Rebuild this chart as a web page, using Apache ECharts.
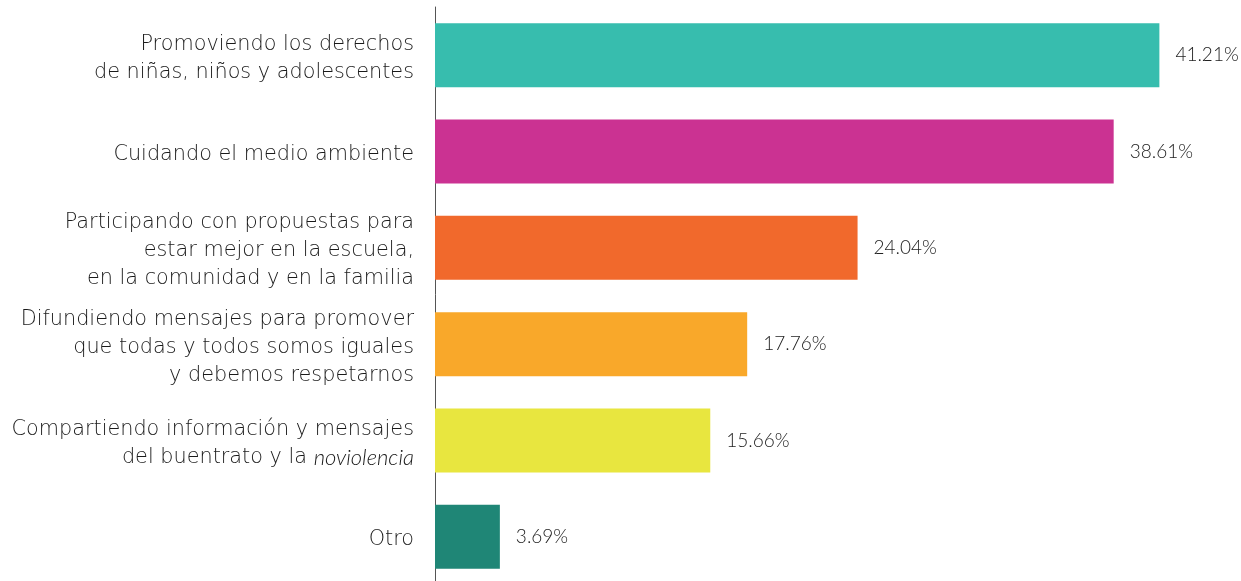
<!DOCTYPE html>
<html>
<head>
<meta charset="utf-8">
<script src="https://cdn.jsdelivr.net/npm/echarts@6/dist/echarts.min.js"></script>
<style>
  html, body { margin: 0; padding: 0; background: #fff; }
  #chart { width: 1241px; height: 581px; }
</style>
</head>
<body>
<div id="chart"></div>
<script>
// categories top to bottom
const categories = [
  'Promoviendo los derechos\nde niñas, niños y adolescentes',
  'Cuidando el medio ambiente',
  'Participando con propuestas para\nestar mejor en la escuela,\nen la comunidad y en la familia',
  'Difundiendo mensajes para promover\nque todas y todos somos iguales\ny debemos respetarnos',
  'Compartiendo información y mensajes\ndel buentrato y la {i|noviolencia}',
  'Otro'
]
const values = [41.21, 38.61, 24.04, 17.76, 15.66, 3.69]
const colors = ['#37bdae', '#cb3292', '#f1692c', '#f9a82a', '#e8e63f', '#1f8676']

const chart = echarts.init(document.getElementById('chart'))

const labelFont = '"DejaVu Sans", sans-serif'

chart.setOption({
  animation: false,
  grid: {
    left: 435,
    right: 15,
    top: 7,
    height: 578,
    containLabel: false,
    outerBoundsMode: 'none'
  },
  xAxis: {
    type: 'value',
    min: 0,
    max: 45,
    show: false
  },
  yAxis: {
    type: 'category',
    inverse: true,
    data: categories,
    axisLine: {
      show: true,
      lineStyle: { color: '#555', width: 1 }
    },
    axisTick: { show: false },
    axisLabel: {
      margin: 21,
      padding: [6, 0, 0, 0],
      color: '#1a1a1a',
      fontFamily: labelFont,
      fontWeight: 200,
      fontSize: 20.8,
      lineHeight: 28,
      align: 'right',
      rich: {
        i: {
          fontStyle: 'italic',
          color: '#1a1a1a',
          fontFamily: 'Lato, sans-serif',
          fontWeight: 300,
          fontSize: 22,
          lineHeight: 28
        }
      }
    }
  },
  series: [{
    type: 'bar',
    barWidth: 64,
    data: values.map((v, i) => ({
      value: v,
      itemStyle: { color: colors[i] }
    })),
    label: {
      show: true,
      position: 'right',
      distance: 16,
      color: '#222',
      fontFamily: 'Lato, sans-serif',
      fontWeight: 300,
      fontSize: 19,
      formatter: p => p.value.toFixed(2) + '%'
    }
  }]
})
</script>
</body>
</html>
